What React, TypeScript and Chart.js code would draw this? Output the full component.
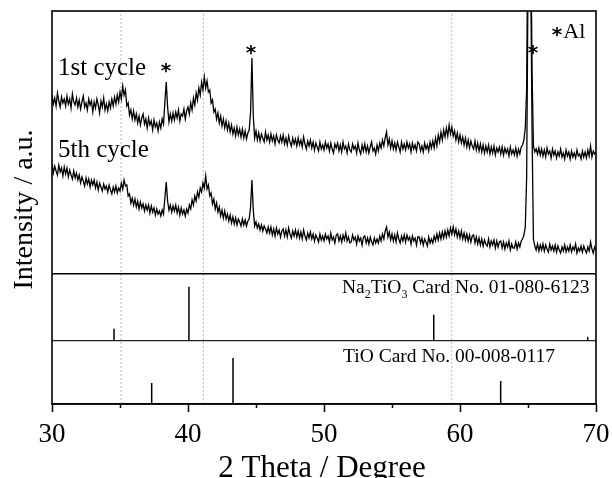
import { useEffect, useRef } from "react";
import { Chart, registerables } from "chart.js";

Chart.register(...registerables);

// 2θ sampling positions (degrees), 0.1° step
const ANGLES = [
  30.0, 30.1, 30.2, 30.3, 30.4, 30.5, 30.6, 30.7, 30.8, 30.9,
  31.0, 31.1, 31.2, 31.3, 31.4, 31.5, 31.6, 31.7, 31.8, 31.9,
  32.0, 32.1, 32.2, 32.3, 32.4, 32.5, 32.6, 32.7, 32.8, 32.9,
  33.0, 33.1, 33.2, 33.3, 33.4, 33.5, 33.6, 33.7, 33.8, 33.9,
  34.0, 34.1, 34.2, 34.3, 34.4, 34.5, 34.6, 34.7, 34.8, 34.9,
  35.0, 35.1, 35.2, 35.3, 35.4, 35.5, 35.6, 35.7, 35.8, 35.9,
  36.0, 36.1, 36.2, 36.3, 36.4, 36.5, 36.6, 36.7, 36.8, 36.9,
  37.0, 37.1, 37.2, 37.3, 37.4, 37.5, 37.6, 37.7, 37.8, 37.9,
  38.0, 38.1, 38.2, 38.3, 38.4, 38.5, 38.6, 38.7, 38.8, 38.9,
  39.0, 39.1, 39.2, 39.3, 39.4, 39.5, 39.6, 39.7, 39.8, 39.9,
  40.0, 40.1, 40.2, 40.3, 40.4, 40.5, 40.6, 40.7, 40.8, 40.9,
  41.0, 41.1, 41.2, 41.3, 41.4, 41.5, 41.6, 41.7, 41.8, 41.9,
  42.0, 42.1, 42.2, 42.3, 42.4, 42.5, 42.6, 42.7, 42.8, 42.9,
  43.0, 43.1, 43.2, 43.3, 43.4, 43.5, 43.6, 43.7, 43.8, 43.9,
  44.0, 44.1, 44.2, 44.3, 44.4, 44.5, 44.6, 44.7, 44.8, 44.9,
  45.0, 45.1, 45.2, 45.3, 45.4, 45.5, 45.6, 45.7, 45.8, 45.9,
  46.0, 46.1, 46.2, 46.3, 46.4, 46.5, 46.6, 46.7, 46.8, 46.9,
  47.0, 47.1, 47.2, 47.3, 47.4, 47.5, 47.6, 47.7, 47.8, 47.9,
  48.0, 48.1, 48.2, 48.3, 48.4, 48.5, 48.6, 48.7, 48.8, 48.9,
  49.0, 49.1, 49.2, 49.3, 49.4, 49.5, 49.6, 49.7, 49.8, 49.9,
  50.0, 50.1, 50.2, 50.3, 50.4, 50.5, 50.6, 50.7, 50.8, 50.9,
  51.0, 51.1, 51.2, 51.3, 51.4, 51.5, 51.6, 51.7, 51.8, 51.9,
  52.0, 52.1, 52.2, 52.3, 52.4, 52.5, 52.6, 52.7, 52.8, 52.9,
  53.0, 53.1, 53.2, 53.3, 53.4, 53.5, 53.6, 53.7, 53.8, 53.9,
  54.0, 54.1, 54.2, 54.3, 54.4, 54.5, 54.6, 54.7, 54.8, 54.9,
  55.0, 55.1, 55.2, 55.3, 55.4, 55.5, 55.6, 55.7, 55.8, 55.9,
  56.0, 56.1, 56.2, 56.3, 56.4, 56.5, 56.6, 56.7, 56.8, 56.9,
  57.0, 57.1, 57.2, 57.3, 57.4, 57.5, 57.6, 57.7, 57.8, 57.9,
  58.0, 58.1, 58.2, 58.3, 58.4, 58.5, 58.6, 58.7, 58.8, 58.9,
  59.0, 59.1, 59.2, 59.3, 59.4, 59.5, 59.6, 59.7, 59.8, 59.9,
  60.0, 60.1, 60.2, 60.3, 60.4, 60.5, 60.6, 60.7, 60.8, 60.9,
  61.0, 61.1, 61.2, 61.3, 61.4, 61.5, 61.6, 61.7, 61.8, 61.9,
  62.0, 62.1, 62.2, 62.3, 62.4, 62.5, 62.6, 62.7, 62.8, 62.9,
  63.0, 63.1, 63.2, 63.3, 63.4, 63.5, 63.6, 63.7, 63.8, 63.9,
  64.0, 64.1, 64.2, 64.3, 64.4, 64.5, 64.6, 64.7, 64.8, 64.9,
  65.0, 65.1, 65.2, 65.3, 65.4, 65.5, 65.6, 65.7, 65.8, 65.9,
  66.0, 66.1, 66.2, 66.3, 66.4, 66.5, 66.6, 66.7, 66.8, 66.9,
  67.0, 67.1, 67.2, 67.3, 67.4, 67.5, 67.6, 67.7, 67.8, 67.9,
  68.0, 68.1, 68.2, 68.3, 68.4, 68.5, 68.6, 68.7, 68.8, 68.9,
  69.0, 69.1, 69.2, 69.3, 69.4, 69.5, 69.6, 69.7, 69.8, 69.9,
  70.0,
];

// Intensity (a.u.), 1st cycle
const CYCLE_1ST = [
  309, 300, 306, 298, 311, 303, 297, 307, 301, 305,
  298, 308, 300, 305, 296, 310, 302, 299, 306, 297,
  304, 295, 302, 308, 297, 301, 294, 305, 299, 303,
  292, 302, 296, 305, 299, 291, 303, 297, 306, 294,
  300, 293, 302, 296, 305, 298, 307, 300, 309, 302,
  312, 305, 318, 309, 314, 298, 301, 289, 294, 285,
  293, 284, 290, 281, 288, 279, 286, 290, 280, 285,
  276, 286, 279, 283, 274, 284, 277, 281, 273, 282,
  276, 285, 280, 302, 322, 297, 282, 290, 283, 291,
  284, 292, 286, 294, 283, 290, 288, 295, 285, 293,
  297, 290, 301, 294, 306, 299, 311, 304, 316, 309,
  322, 314, 327, 316, 323, 312, 314, 301, 304, 292,
  295, 285, 291, 281, 288, 278, 285, 276, 283, 274,
  281, 272, 279, 270, 276, 268, 277, 269, 275, 267,
  275, 266, 273, 265, 271, 274, 292, 346, 288, 266,
  273, 264, 271, 263, 270, 266, 262, 272, 264, 269,
  262, 270, 263, 268, 260, 269, 264, 261, 268, 262,
  269, 260, 266, 259, 268, 262, 258, 266, 260, 265,
  258, 266, 259, 264, 257, 267, 260, 255, 263, 258,
  264, 256, 262, 254, 261, 257, 253, 262, 255, 259,
  254, 262, 256, 260, 253, 261, 255, 251, 260, 256,
  261, 253, 259, 252, 262, 255, 258, 251, 260, 254,
  252, 260, 255, 258, 251, 261, 254, 250, 259, 253,
  260, 252, 258, 251, 257, 262, 253, 256, 250, 259,
  253, 261, 256, 264, 258, 266, 272, 259, 265, 256,
  263, 255, 261, 254, 262, 257, 252, 262, 255, 260,
  254, 262, 256, 260, 252, 261, 255, 259, 253, 262,
  260, 253, 258, 252, 261, 255, 259, 253, 262, 256,
  263, 256, 266, 258, 269, 262, 272, 264, 274, 267,
  276, 268, 279, 270, 277, 268, 273, 264, 271, 262,
  269, 261, 267, 259, 266, 257, 264, 256, 263, 258,
  255, 263, 254, 261, 253, 260, 252, 259, 251, 258,
  252, 259, 250, 257, 251, 258, 249, 256, 252, 257,
  250, 257, 249, 256, 251, 255, 248, 257, 250, 254,
  249, 256, 248, 255, 250, 257, 259, 264, 276, 314,
  500, 560, 480, 330, 258, 252, 255, 250, 256, 249,
  255, 248, 254, 247, 256, 250, 253, 246, 255, 249,
  253, 246, 252, 248, 255, 247, 251, 245, 254, 248,
  252, 245, 253, 247, 251, 246, 254, 248, 250, 245,
  253, 247, 252, 246, 254, 248, 258, 247, 253, 250,
  252,
];

// Intensity (a.u.), 5th cycle
const CYCLE_5TH = [
  240, 231, 238, 233, 229, 239, 232, 236, 228, 237,
  230, 236, 227, 234, 229, 225, 233, 226, 231, 224,
  229, 221, 227, 223, 218, 226, 220, 225, 217, 224,
  219, 224, 216, 222, 214, 221, 217, 213, 220, 215,
  218, 212, 219, 214, 210, 217, 212, 218, 211, 216,
  213, 221, 215, 224, 218, 219, 208, 210, 201, 206,
  199, 205, 197, 203, 195, 202, 196, 200, 193, 199,
  194, 199, 191, 198, 192, 196, 189, 195, 190, 193,
  188, 194, 190, 206, 222, 203, 194, 199, 192, 198,
  193, 199, 191, 197, 189, 196, 190, 194, 188, 195,
  191, 199, 195, 204, 199, 208, 203, 212, 207, 216,
  212, 221, 216, 228, 215, 219, 208, 211, 200, 205,
  195, 201, 192, 197, 188, 194, 186, 193, 185, 190,
  183, 189, 181, 187, 180, 186, 179, 185, 182, 178,
  185, 179, 184, 178, 183, 185, 197, 224, 194, 178,
  182, 176, 180, 174, 179, 173, 178, 175, 171, 177,
  171, 177, 169, 175, 168, 176, 170, 174, 167, 173,
  175, 168, 174, 167, 176, 170, 166, 173, 168, 174,
  167, 173, 166, 172, 165, 174, 168, 164, 171, 166,
  172, 165, 170, 163, 169, 166, 162, 170, 164, 168,
  163, 170, 165, 168, 162, 171, 164, 167, 161, 169,
  170, 163, 168, 162, 169, 164, 171, 163, 167, 161,
  162, 169, 164, 167, 160, 168, 163, 166, 159, 167,
  168, 161, 166, 160, 167, 162, 159, 166, 161, 165,
  161, 168, 163, 170, 165, 173, 177, 167, 172, 164,
  170, 163, 169, 162, 171, 165, 161, 168, 163, 169,
  162, 169, 164, 167, 160, 168, 163, 166, 159, 167,
  167, 161, 166, 159, 165, 162, 158, 167, 161, 165,
  161, 168, 163, 170, 164, 171, 165, 172, 166, 173,
  167, 174, 168, 176, 170, 177, 169, 175, 167, 173,
  166, 173, 165, 171, 164, 170, 163, 169, 162, 168,
  169, 161, 167, 160, 166, 159, 165, 158, 164, 160,
  158, 165, 157, 163, 159, 164, 156, 163, 157, 162,
  163, 156, 162, 155, 161, 157, 163, 154, 160, 156,
  156, 162, 155, 161, 157, 163, 165, 169, 177, 226,
  420, 480, 430, 270, 165, 158, 154, 160, 153, 159,
  154, 160, 153, 159, 155, 152, 160, 154, 158, 153,
  159, 152, 158, 154, 151, 157, 153, 159, 152, 157,
  153, 159, 152, 157, 154, 160, 151, 156, 153, 158,
  152, 158, 154, 151, 157, 153, 162, 155, 151, 157,
  154,
];

// Reference cards (stick patterns)
const NA2TIO3_POS = [34.56, 40.07, 58.07, 69.39];
const NA2TIO3_INT = [12, 54, 26, 4];
const TIO_POS = [37.33, 43.31, 62.99];
const TIO_INT = [21, 46, 23];

// Dotted guide lines
const GUIDE_POS = [35.07, 41.13, 59.39];

// Axis ticks
const X_TICKS = [30, 40, 50, 60, 70];
const X_MINOR = [35, 45, 55, 65];

const X_MIN = 30;
const X_MAX = 70;
const Y_MAX = 393;
const PANEL_TOP = 130.3; // top of stick panels
const NA_BASE = 63.3; // baseline of Na2TiO3 panel
const TIO_BASE = 0; // baseline of TiO panel

const SERIF = '"Liberation Serif", "Times New Roman", serif';

function sticks(pos: number[], ints: number[], base: number) {
  const out: { x: number; y: number | null }[] = [];
  pos.forEach((p, i) => {
    out.push({ x: p, y: base });
    out.push({ x: p, y: base + ints[i] });
    out.push({ x: p, y: null });
  });
  return out;
}

const decorPlugin = {
  id: "decor",
  afterDatasetsDraw(chart: any) {
    const { ctx, chartArea } = chart;
    const xs = chart.scales.x;
    ctx.save();
    ctx.strokeStyle = "#000";
    ctx.lineWidth = 1.6;
    ctx.strokeRect(
      chartArea.left,
      chartArea.top,
      chartArea.right - chartArea.left,
      chartArea.bottom - chartArea.top
    );
    ctx.lineWidth = 1.5;
    X_MINOR.forEach((v) => {
      const px = Math.round(xs.getPixelForValue(v)) + 0.5;
      ctx.beginPath();
      ctx.moveTo(px, chartArea.bottom);
      ctx.lineTo(px, chartArea.bottom + 4);
      ctx.stroke();
    });
    ctx.restore();
  },
  afterDraw(chart: any) {
    const { ctx, chartArea } = chart;
    const xs = chart.scales.x;
    const ys = chart.scales.y;
    const X = (v: number) => xs.getPixelForValue(v);
    const Y = (v: number) => ys.getPixelForValue(v);
    ctx.save();
    ctx.fillStyle = "#000";
    ctx.textAlign = "left";
    ctx.textBaseline = "alphabetic";

    ctx.font = `25px ${SERIF}`;
    ctx.fillText("1st cycle", X(30.44), Y(329));
    ctx.fillText("5th cycle", X(30.44), Y(247));

    const star = (vx: number, vy: number) => {
      ctx.font = `bold 20px "DejaVu Sans", sans-serif`;
      ctx.textAlign = "center";
      const m = ctx.measureText("*");
      const cy = Y(vy);
      ctx.fillText(
        "*",
        X(vx),
        cy + (m.actualBoundingBoxAscent - m.actualBoundingBoxDescent) / 2
      );
      ctx.textAlign = "left";
    };
    star(38.38, 336);
    star(44.63, 354);
    star(65.37, 354);
    star(67.13, 372);

    ctx.font = `22px ${SERIF}`;
    ctx.fillText("Al", X(67.6), Y(366));

    let cx = X(51.32);
    const by = Y(111);
    const big = `19.5px ${SERIF}`;
    const small = `12px ${SERIF}`;
    const parts: [string, boolean][] = [
      ["Na", false],
      ["2", true],
      ["TiO", false],
      ["3", true],
      [" Card No. 01-080-6123", false],
    ];
    parts.forEach(([t, sub]) => {
      ctx.font = sub ? small : big;
      ctx.fillText(t, cx, sub ? by + 5 : by);
      cx += ctx.measureText(t).width;
    });

    ctx.font = big;
    ctx.fillText("TiO Card No. 00-008-0117", X(51.4), Y(42.3));

    ctx.font = `31px ${SERIF}`;
    ctx.textAlign = "center";
    ctx.fillText("2 Theta / Degree", (chartArea.left + chartArea.right) / 2 - 2, 477);

    ctx.save();
    ctx.translate(32, (chartArea.top + chartArea.bottom) / 2 + 2);
    ctx.rotate(-Math.PI / 2);
    ctx.font = `28px ${SERIF}`;
    ctx.fillText("Intensity / a.u.", 0, 0);
    ctx.restore();

    ctx.restore();
  },
};

export default function App() {
  const ref = useRef<HTMLCanvasElement | null>(null);

  useEffect(() => {
    if (!ref.current) return;
    const toXY = (ys: number[]) => ANGLES.map((a, i) => ({ x: a, y: ys[i] }));
    const guides: { x: number; y: number | null }[] = [];
    GUIDE_POS.forEach((p) => {
      guides.push({ x: p, y: 0 });
      guides.push({ x: p, y: Y_MAX });
      guides.push({ x: p, y: null });
    });
    const lineBase = {
      pointRadius: 0,
      fill: false,
      tension: 0,
      spanGaps: false,
    };
    const chart = new Chart(ref.current, {
      type: "line",
      data: {
        datasets: [
          { ...lineBase, data: toXY(CYCLE_1ST), borderColor: "#000", borderWidth: 1.3 },
          { ...lineBase, data: toXY(CYCLE_5TH), borderColor: "#000", borderWidth: 1.3 },
          { ...lineBase, data: sticks(NA2TIO3_POS, NA2TIO3_INT, NA_BASE), borderColor: "#000", borderWidth: 1.5 },
          { ...lineBase, data: sticks(TIO_POS, TIO_INT, TIO_BASE), borderColor: "#000", borderWidth: 1.5 },
          { ...lineBase, data: [{ x: X_MIN, y: PANEL_TOP }, { x: X_MAX, y: PANEL_TOP }], borderColor: "#000", borderWidth: 1.6 },
          { ...lineBase, data: [{ x: X_MIN, y: NA_BASE }, { x: X_MAX, y: NA_BASE }], borderColor: "#222", borderWidth: 1.2 },
          { ...lineBase, data: guides, borderColor: "#bbbbbb", borderWidth: 1, borderDash: [2, 2] },
        ] as any,
      },
      options: {
        animation: false,
        responsive: false,
        devicePixelRatio: 1,
        layout: { padding: { top: 11, right: 16, left: 0, bottom: 0 } },
        plugins: { legend: { display: false }, tooltip: { enabled: false } },
        events: [],
        scales: {
          x: {
            type: "linear",
            min: X_MIN,
            max: X_MAX,
            afterBuildTicks: (s: any) => {
              s.ticks = X_TICKS.map((v) => ({ value: v }));
            },
            afterFit: (s: any) => {
              s.height = 74;
              s.paddingLeft = 0;
              s.paddingRight = 0;
            },
            ticks: {
              font: { family: SERIF, size: 27 },
              color: "#000",
              padding: 7,
              maxRotation: 0,
              autoSkip: false,
            },
            grid: {
              drawOnChartArea: false,
              drawTicks: true,
              tickLength: 8,
              tickColor: "#000",
              tickWidth: 1.5,
            },
            border: { display: true, color: "#000", width: 1.6 },
          },
          y: {
            type: "linear",
            min: 0,
            max: Y_MAX,
            afterFit: (s: any) => {
              s.width = 52;
              s.paddingTop = 0;
              s.paddingBottom = 0;
            },
            ticks: { display: false },
            grid: { display: false, drawTicks: false },
            border: { display: false },
          },
        },
      } as any,
      plugins: [decorPlugin],
    });
    return () => chart.destroy();
  }, []);

  return (
    <div style={{ position: "fixed", left: 0, top: 0, width: 612, height: 478, background: "#fff" }}>
      <canvas ref={ref} width={612} height={478} style={{ width: 612, height: 478, display: "block" }} />
    </div>
  );
}
